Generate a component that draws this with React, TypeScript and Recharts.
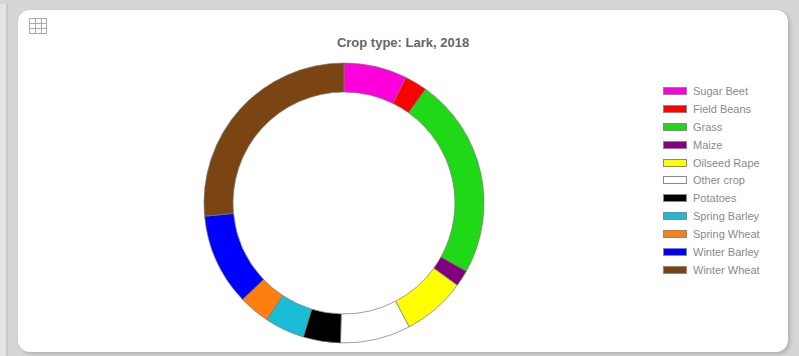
import React from 'react';
import { PieChart, Pie, Cell, Legend } from 'recharts';

// Share of area by crop, in percent
const crops = [
  'Sugar Beet', 'Field Beans', 'Grass', 'Maize', 'Oilseed Rape', 'Other crop',
  'Potatoes', 'Spring Barley', 'Spring Wheat', 'Winter Barley', 'Winter Wheat',
];
const shares = [7.3, 2.6, 23.2, 1.9, 7.3, 8.1, 4.3, 4.6, 3.6, 10.6, 26.5];
const colours = [
  '#ff00dd', '#ff0000', '#1fd916', '#800080', '#ffff00', '#ffffff',
  '#000000', '#19bdd6', '#ff7f0e', '#0000ff', '#7b4513',
];

const FONT = '"Liberation Sans", Arial, sans-serif';

const data = crops.map((name, i) => ({ name, value: shares[i], fill: colours[i] }));

const CropLegend = () => (
  <div style={{ fontFamily: FONT, fontSize: 11, color: '#8a8a8a' }}>
    {data.map((d) => (
      <div key={d.name} style={{ display: 'flex', alignItems: 'center', height: 17.9 }}>
        <span
          style={{
            display: 'inline-block',
            width: 22,
            height: 6,
            background: d.fill,
            border: '1px solid #888',
            marginRight: 6,
          }}
        />
        {d.name}
      </div>
    ))}
  </div>
);

const TableIcon = () => (
  <svg width={18} height={16} style={{ position: 'absolute', left: 29, top: 18 }}>
    {[0.5, 5.5, 10.5, 15.5].map((y) => (
      <line key={`h${y}`} x1={0} x2={18} y1={y} y2={y} stroke="#aaa" />
    ))}
    {[0.5, 6.5, 12.5, 17.5].map((x) => (
      <line key={`v${x}`} x1={x} x2={x} y1={0} y2={16} stroke="#aaa" />
    ))}
  </svg>
);

export default function App() {
  return (
    <div
      style={{
        position: 'fixed', left: 0, top: 0, width: 799, height: 356,
        background: '#d6d6d6', overflow: 'hidden',
      }}
    >
      <div
        style={{
          position: 'absolute', left: 0, top: 4, width: 6, height: 360,
          background: '#e4e4e4', borderRight: '2px solid #c8c8c8',
        }}
      />
      <div
        style={{
          position: 'absolute', left: 18, top: 10, width: 770, height: 342,
          background: '#fff', borderRadius: 12, boxShadow: '2px 2px 4px rgba(0,0,0,0.18)',
        }}
      />
      <TableIcon />
      <div
        style={{
          position: 'absolute', left: 0, top: 35, width: 806, textAlign: 'center',
          fontFamily: FONT, fontSize: 13, fontWeight: 'bold', color: '#666',
        }}
      >
        Crop type: Lark, 2018
      </div>
      <div style={{ position: 'absolute', left: 0, top: 0 }}>
        <PieChart width={799} height={356} margin={{ top: 0, right: 0, bottom: 0, left: 0 }}>
          <Pie
            data={data}
            dataKey="value"
            nameKey="name"
            cx={344}
            cy={203}
            innerRadius={111}
            outerRadius={140}
            startAngle={90}
            endAngle={-270}
            stroke="#777"
            strokeWidth={0.7}
            isAnimationActive={false}
          >
            {data.map((d) => (
              <Cell key={d.name} fill={d.fill} />
            ))}
          </Pie>
          <Legend
            layout="vertical"
            content={<CropLegend />}
            wrapperStyle={{ left: 663, top: 82, width: 130 }}
          />
        </PieChart>
      </div>
    </div>
  );
}
